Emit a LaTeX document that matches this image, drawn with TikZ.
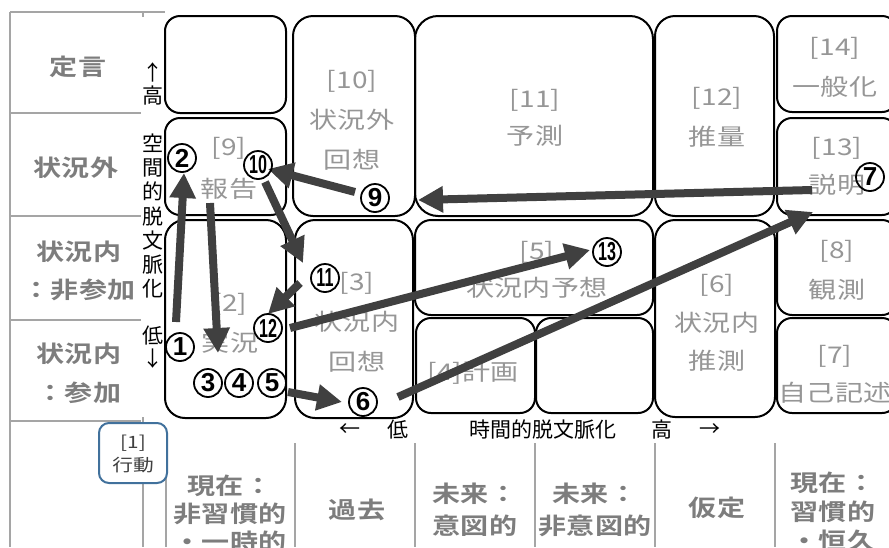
\documentclass[tikz,border=0pt]{standalone}
\usepackage{fontspec}
\usepackage{graphicx}
\usetikzlibrary{arrows.meta}
\newfontfamily\jpw[FakeStretch=1.22]{Noto Sans CJK JP}
\newfontfamily\jpwb[FakeStretch=1.22]{Noto Sans CJK JP Bold}
\newfontfamily\jpn{Noto Sans CJK JP}
\newfontfamily\numf{Liberation Sans}
\definecolor{linegray}{RGB}{165,165,165}
\definecolor{labgray}{RGB}{125,125,125}
\definecolor{boxgray}{RGB}{150,150,150}
\definecolor{arrgray}{RGB}{64,64,64}
\definecolor{bluebox}{RGB}{65,113,156}
\definecolor{darktext}{RGB}{64,64,64}
\newcommand{\twodig}[1]{\scalebox{0.62}[1]{#1}}
\newcommand{\fsz}[2]{\fontsize{#1}{#2}\selectfont}
\tikzset{
  cell/.style={draw=black, line width=2pt},
  grid/.style={draw=linegray, line width=2.5pt},
  btxt/.style={text=boxgray, align=center, inner sep=0pt, font=\jpw\fsz{23}{40}},
  tlab/.style={text=labgray, align=center, inner sep=0pt, font=\jpwb\fsz{23}{30}},
  axl/.style={text=black, align=center, inner sep=0pt, font=\jpn\fsz{21}{23.5}},
  num/.style={circle, draw=black, line width=1.8pt, minimum size=28pt, inner sep=0pt, font=\numf\bfseries\fsz{26}{26}},
  arr/.style={draw=arrgray, line width=8pt, -{Triangle[length=25pt,width=25pt]}},
}
\begin{document}
\begin{tikzpicture}[x=1pt,y=-1pt]
\useasboundingbox (0,0) rectangle (889,547);
\clip (0,0) rectangle (889,547);
\fill[white] (0,0) rectangle (889,547);

% left table
\draw[grid] (10,12) -- (165,12);
\draw[grid] (10,12) -- (10,547);
\foreach \yy in {113,216,320,421} \draw[grid] (10,\yy) -- (141,\yy);
\draw[grid] (143,12) -- (143,17);
\draw[grid] (143,417) -- (143,547);
% bottom table
\foreach \xx in {166,295,415,535,655,775} \draw[grid] (\xx,443) -- (\xx,547);

% left table labels
\node[tlab] (tDef) at (78,67) {定言};
\node[tlab] (tOut) at (76,168) {状況外};
\node[tlab, font=\jpwb\fsz{23}{38}] (tInN) at (79,271) {状況内\\：非参加};
\node[tlab, font=\jpwb\fsz{23}{39}] (tInP) at (79,373) {状況内\\：参加};

% bottom table labels
\node[tlab, font=\jpwb\fsz{23}{28}] (cNow1) at (230,514) {現在：\\非習慣的\\・一時的};
\node[tlab] (cPast) at (357,510) {過去};
\node[tlab, font=\jpwb\fsz{23}{32}] (cFut1) at (475,510) {未来：\\意図的};
\node[tlab, font=\jpwb\fsz{23}{32}] (cFut2) at (595,510) {未来：\\非意図的};
\node[tlab] (cHyp) at (717,508) {仮定};
\node[tlab, font=\jpwb\fsz{23}{29}] (cNow2) at (833,512) {現在：\\習慣的\\・恒久};

% boxes
\draw[cell, rounded corners=15pt] (165,16) rectangle (286,113);
\draw[cell, rounded corners=15pt] (165,118) rectangle (286,215);
\draw[cell, rounded corners=20pt] (165,220) rectangle (286,418);
\draw[cell, rounded corners=20pt] (293,16) rectangle (415,216);
\draw[cell, rounded corners=20pt] (295,220) rectangle (413,418);
\draw[cell, rounded corners=23pt] (415,16) rectangle (653,216);
\draw[cell, rounded corners=16pt] (415,220) rectangle (653,315);
\draw[cell, rounded corners=15pt] (416,318) rectangle (535,413);
\draw[cell, rounded corners=15pt] (536,318) rectangle (653,413);
\draw[cell, rounded corners=20pt] (655,16) rectangle (774,216);
\draw[cell, rounded corners=20pt] (655,220) rectangle (775,417);
\draw[cell, rounded corners=15pt] (777,16) rectangle (897,112);
\draw[cell, rounded corners=15pt] (777,118) rectangle (897,215);
\draw[cell, rounded corners=15pt] (777,220) rectangle (897,315);
\draw[cell, rounded corners=15pt] (777,318) rectangle (897,413);

% box texts
\node[btxt, font=\jpw\fsz{23}{42}] (x9) at (229,168) {[9]\\報告};
\node[btxt] (x10) at (352,120) {[10]\\状況外\\回想};
\node[btxt, font=\jpw\fsz{23}{37}] (x11) at (535,118) {[11]\\予測};
\node[btxt] (x12) at (717,117) {[12]\\推量};
\node[btxt] (x14) at (835,67) {[14]\\一般化};
\node[btxt, font=\jpw\fsz{23}{38}] (x13) at (837,166) {[13]\\説明};
\node[btxt] (x8) at (837,270) {[8]\\観測};
\node[btxt, font=\jpw\fsz{23}{38}] (x7) at (835,374) {[7]\\自己記述};
\node[btxt, font=\jpw\fsz{23}{38.5}] (x6) at (717,323) {[6]\\状況内\\推測};
\node[btxt, font=\jpw\fsz{23}{37}] (x5) at (537,270) {[5]\\状況内予想};
\node[btxt] (x4) at (473,373) {[4]計画};
\node[btxt] (x3) at (357,322) {[3]\\状況内\\回想};
\node[btxt] (x2) at (230,323) {[2]\\実況};

% axis labels
\node[axl, font=\jpn\fsz{21}{23}] (vHi) at (153,84) {↑\\高};
\node[axl, font=\jpn\fsz{21}{24.3}] (vMid) at (153,216) {空\\間\\的\\脱\\文\\脈\\化};
\node[axl, font=\jpn\fsz{21}{23}] (vLo) at (153,347) {低\\↓};
\node[axl] (hL) at (350,430) {←};
\node[axl] (hLo) at (398,430) {低};
\node[axl] (hMid) at (543,430) {時間的脱文脈化};
\node[axl] (hHi) at (662,430) {高};
\node[axl] (hR) at (710,430) {→};

% [1] box
\node[draw=bluebox, line width=2pt, fill=white, rounded corners=10pt,
      minimum width=68pt, minimum height=60pt, inner sep=0pt] (b1) at (133,453) {};
\node[text=darktext, align=center, inner sep=0pt, font=\jpw\fsz{17}{23}] (x1) at (133,454) {[1]\\行動};

% arrow end points
\coordinate (a1s) at (176,322); \coordinate (a1e) at (184,173);
\coordinate (a2s) at (210,203); \coordinate (a2e) at (218,353);
\coordinate (a3s) at (288,392); \coordinate (a3e) at (342,402);
\coordinate (a4s) at (398,397); \coordinate (a4e) at (813,212);
\coordinate (a5s) at (812,190); \coordinate (a5e) at (418,200);
\coordinate (a6s) at (355,192); \coordinate (a6e) at (268,169);
\coordinate (a7s) at (265,182); \coordinate (a7e) at (303,263);
\coordinate (a8s) at (300,283); \coordinate (a8e) at (268,314);
\coordinate (a9s) at (290,328); \coordinate (a9e) at (590,250);

\draw[arr] (a1s) -- (a1e);
\draw[arr] (a2s) -- (a2e);
\draw[arr] (a3s) -- (a3e);
\draw[arr] (a4s) -- (a4e);
\draw[arr] (a5s) -- (a5e);
\draw[arr] (a6s) -- (a6e);
\draw[arr] (a7s) -- (a7e);
\draw[arr] (a8s) -- (a8e);
\draw[arr] (a9s) -- (a9e);

% circled numbers
\node[num] (n1) at (180,347) {1};
\node[num] (n2) at (182,158) {2};
\node[num] (n3) at (208,383) {3};
\node[num] (n4) at (239,383) {4};
\node[num] (n5) at (272,383) {5};
\node[num] (n6) at (363,402) {6};
\node[num] (n7) at (870,177) {7};
\node[num] (n9) at (375,198) {9};
\node[num] (n10) at (258,165) {\twodig{10}};
\node[num] (n11) at (325,278) {\twodig{11}};
\node[num] (n12) at (268,328) {\twodig{12}};
\node[num] (n13) at (607,252) {\twodig{13}};
\end{tikzpicture}
\end{document}
